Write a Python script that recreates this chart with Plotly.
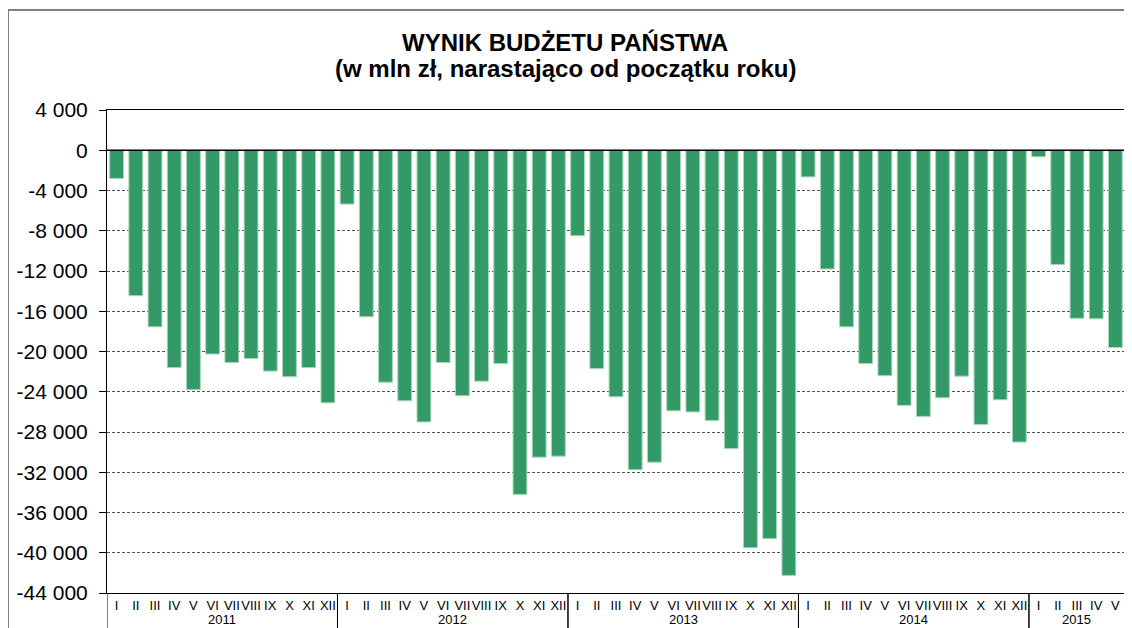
import plotly.graph_objects as go

months = ["I", "II", "III", "IV", "V", "VI", "VII", "VIII", "IX", "X", "XI", "XII"]
years = ["2011", "2012", "2013", "2014", "2015"]

values_2011 = [-2800, -14450, -17550, -21600, -23800, -20250, -21100, -20700, -21950, -22500, -21600, -25100]
values_2012 = [-5350, -16550, -23050, -24900, -27000, -21100, -24400, -22950, -21200, -34200, -30500, -30400]
values_2013 = [-8500, -21700, -24500, -31750, -31000, -25900, -26000, -26850, -29650, -39500, -38600, -42250]
values_2014 = [-2650, -11800, -17550, -21200, -22400, -25350, -26450, -24600, -22450, -27250, -24800, -29000]
values_2015 = [-650, -11350, -16700, -16750, -19600]

y_ticks = list(range(4000, -44001, -4000))
y_tick_text = ["4 000", "0", "-4 000", "-8 000", "-12 000", "-16 000", "-20 000", "-24 000",
               "-28 000", "-32 000", "-36 000", "-40 000", "-44 000"]

all_values = [values_2011, values_2012, values_2013, values_2014, values_2015]
x_cat, x_month, y_all = [], [], []
year_spans = []  # (year, first index, last index)
for yr, vals in zip(years, all_values):
    start = len(x_cat)
    for m, v in zip(months, vals):
        x_cat.append(f"{m} {yr}")
        x_month.append(m)
        y_all.append(v)
    year_spans.append((yr, start, len(x_cat) - 1))

FONT = "Arial, Liberation Sans, sans-serif"
OFF = 8  # page body margin offset
W, H = 1132 - OFF, 628 - OFF
L, R, T, B = 107 - OFF, 1125 - OFF, 110 - OFF, 593 - OFF
PW, PH = R - L, B - T

def px_x(p):
    return (p - OFF - L) / PW

def px_y(p):
    return (B - (p - OFF)) / PH

fig = go.Figure()
fig.add_trace(go.Bar(
    x=x_cat, y=y_all,
    marker=dict(color="#339966", line=dict(color="#a9d6bb", width=1)),
    hovertext=x_cat, hoverinfo="text+y",
))

fig.update_layout(
    width=W, height=H,
    margin=dict(l=L, r=W - R, t=T, b=H - B, autoexpand=False),
    paper_bgcolor="white", plot_bgcolor="white",
    bargap=0.28,
    showlegend=False,
    font=dict(family=FONT, color="black"),
)

fig.update_yaxes(
    range=[-44000, 4000], tickvals=y_ticks, ticktext=y_tick_text,
    tickfont=dict(size=21, family=FONT, color="black"),
    ticks="outside", ticklen=7, tickcolor="black",
    ticklabelstandoff=7, automargin=False,
    showgrid=True, gridcolor="#555555", gridwidth=1, griddash="3px,2px",
    showline=True, linecolor="black", linewidth=1, mirror=True,
    zeroline=False,
)
fig.update_xaxes(
    type="category", range=[-0.5, len(x_cat) - 0.5],
    tickmode="array", tickvals=x_cat, ticktext=x_month,
    tickangle=0, automargin=False, ticklabelstandoff=0,
    tickfont=dict(size=13, family=FONT, color="black"),
    showline=True, linecolor="black", linewidth=1, mirror=True,
    ticks="", showgrid=False,
)

# zero line drawn above the bars
fig.add_shape(type="line", xref="paper", yref="y", x0=0, x1=1, y0=0, y1=0,
              line=dict(color="black", width=1.5), layer="above")

# year group labels and dividers
for yr, s, e in year_spans:
    fig.add_annotation(text=yr, xref="x", yref="paper", x=(s + e) / 2, y=px_y(619.5),
                       xanchor="center", yanchor="middle", showarrow=False,
                       font=dict(size=13, family=FONT, color="black"))
    for edge in (s - 0.5, e + 0.5):
        fig.add_shape(type="line", xref="x", yref="paper", x0=edge, x1=edge,
                      y0=0, y1=px_y(628), line=dict(color="black", width=1))

# title (two lines)
fig.add_annotation(text="<b>WYNIK BUDŻETU PAŃSTWA</b>", xref="paper", yref="paper",
                   x=px_x(565), y=px_y(42), xanchor="center", yanchor="middle",
                   showarrow=False, font=dict(size=24, family=FONT, color="black"))
fig.add_annotation(text="<b>(w mln zł, narastająco od początku roku)</b>", xref="paper", yref="paper",
                   x=px_x(565), y=px_y(68), xanchor="center", yanchor="middle",
                   showarrow=False, font=dict(size=24, family=FONT, color="black"))

# outer chart frame (top and left edges visible)
fig.add_shape(type="line", xref="paper", yref="paper",
              x0=px_x(8), x1=px_x(1132), y0=px_y(10), y1=px_y(10),
              line=dict(color="#808080", width=2))
fig.add_shape(type="line", xref="paper", yref="paper",
              x0=px_x(8), x1=px_x(8), y0=px_y(10), y1=px_y(628),
              line=dict(color="#808080", width=2))

fig.write_html("out.html")
